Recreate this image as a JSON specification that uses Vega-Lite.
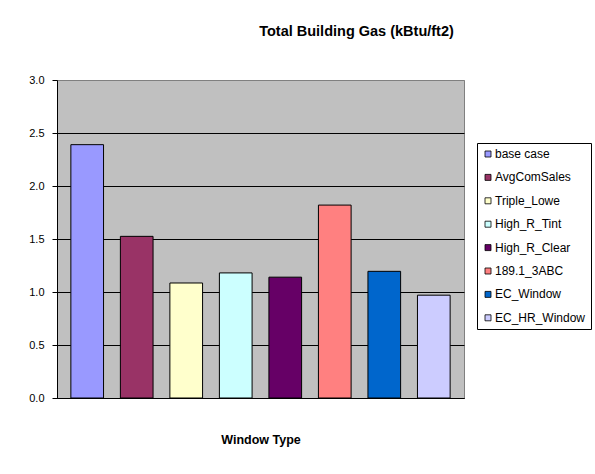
{
  "$schema": "https://vega.github.io/schema/vega-lite/v6.json",
  "width": 407,
  "height": 318,
  "autosize": {"type": "none"},
  "padding": {"left": 57, "top": 80, "right": 131, "bottom": 76},
  "background": "white",
  "title": {
    "text": "Total Building Gas (kBtu/ft2)",
    "font": "Liberation Sans",
    "fontSize": 14.5,
    "fontWeight": "bold",
    "color": "black",
    "anchor": "middle",
    "dx": 96,
    "offset": 35
  },
  "data": {
    "values": [
      {"window": "base case", "gas": 2.39},
      {"window": "AvgComSales", "gas": 1.525},
      {"window": "Triple_Lowe", "gas": 1.085},
      {"window": "High_R_Tint", "gas": 1.18},
      {"window": "High_R_Clear", "gas": 1.14},
      {"window": "189.1_3ABC", "gas": 1.82},
      {"window": "EC_Window", "gas": 1.195},
      {"window": "EC_HR_Window", "gas": 0.97}
    ]
  },
  "mark": {"type": "bar", "stroke": "black", "strokeWidth": 1},
  "encoding": {
    "x": {
      "field": "window",
      "type": "nominal",
      "sort": null,
      "scale": {"paddingInner": 0.34, "paddingOuter": 0.28},
      "axis": {
        "title": "Window Type",
        "labels": false,
        "ticks": false,
        "domainColor": "black",
        "titleFont": "Liberation Sans",
        "titleFontSize": 12.5,
        "titleFontWeight": "bold",
        "titleColor": "black",
        "titlePadding": 35
      }
    },
    "y": {
      "field": "gas",
      "type": "quantitative",
      "scale": {"domain": [0, 3], "nice": false, "zero": true},
      "axis": {
        "title": null,
        "values": [0, 0.5, 1, 1.5, 2, 2.5, 3],
        "format": ".1f",
        "labelFont": "Liberation Sans",
        "labelFontSize": 11,
        "labelColor": "black",
        "labelPadding": 8,
        "tickSize": 5,
        "tickColor": "black",
        "domainColor": "black",
        "grid": true,
        "gridColor": {"condition": {"test": "datum.value >= 3", "value": "#808080"}, "value": "black"},
        "gridOpacity": 1,
        "gridWidth": 1
      }
    },
    "color": {
      "field": "window",
      "type": "nominal",
      "sort": null,
      "scale": {
        "domain": ["base case", "AvgComSales", "Triple_Lowe", "High_R_Tint", "High_R_Clear", "189.1_3ABC", "EC_Window", "EC_HR_Window"],
        "range": ["#9999FF", "#993366", "#FFFFCC", "#CCFFFF", "#660066", "#FF8080", "#0066CC", "#CCCCFF"]
      },
      "legend": {
        "title": null,
        "orient": "none",
        "legendX": 420,
        "legendY": 63,
        "strokeColor": "black",
        "fillColor": "white",
        "padding": 5,
        "symbolType": "square",
        "symbolSize": 36,
        "symbolStrokeColor": "black",
        "symbolStrokeWidth": 0.8,
        "symbolOpacity": 1,
        "labelFont": "Liberation Sans",
        "labelFontSize": 12,
        "labelColor": "black",
        "labelOffset": 1,
        "rowPadding": 11.4
      }
    }
  },
  "config": {
    "view": {"fill": "#C0C0C0", "stroke": "#808080", "strokeWidth": 1},
    "axis": {"domainWidth": 1}
  }
}
